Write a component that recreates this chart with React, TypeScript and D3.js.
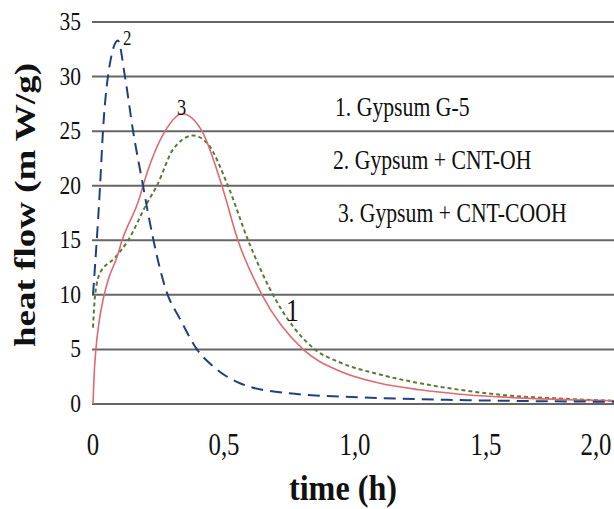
import React from "react";
import * as d3 from "d3";

const yTicks = [0, 5, 10, 15, 20, 25, 30, 35];
const xTicks = [0, 0.5, 1.0, 1.5, 2.0];
const xTickLabels = ["0", "0,5", "1,0", "1,5", "2,0"];

// Curve 2: Gypsum + CNT-OH (blue dashed)
const t2 = [0, 0.027, 0.038, 0.057, 0.095, 0.122, 0.153, 0.191, 0.21, 0.282, 0.332, 0.397, 0.466, 0.561, 0.74, 1.095, 1.431, 1.99];
const q2 = [10, 20, 25, 30, 33.3, 30, 25, 20, 17.5, 10.2, 7.8, 5.0, 3.3, 1.9, 1.0, 0.55, 0.35, 0.2];

// Curve 3: Gypsum + CNT-COOH (red solid)
const t3 = [0, 0.004, 0.011, 0.023, 0.038, 0.057, 0.092, 0.111, 0.179, 0.191, 0.275, 0.34, 0.416, 0.492, 0.553, 0.645, 0.802, 0.943, 1.095, 1.248, 1.4, 1.553, 1.99];
const q3 = [0, 2.5, 5, 7.5, 9.5, 11.3, 13.5, 15, 19, 20, 25, 26.6, 25, 20, 15, 10, 5, 3.0, 1.9, 1.3, 0.9, 0.65, 0.3];

// Curve 1: Gypsum G-5 (green dotted)
const t1 = [0, 0.008, 0.027, 0.084, 0.134, 0.206, 0.244, 0.305, 0.382, 0.439, 0.515, 0.592, 0.687, 0.847, 0.943, 1.095, 1.248, 1.4, 1.553, 1.782, 1.99];
const q1 = [7, 10, 12, 13.4, 15, 18.4, 20, 23.3, 24.6, 23.8, 20, 15, 10, 5, 3.8, 2.7, 1.9, 1.3, 0.85, 0.5, 0.3];

const legendLabels = ["1. Gypsum G-5", "2. Gypsum + CNT-OH", "3. Gypsum + CNT-COOH"];

const W = 614;
const H = 509;
const FONT = '"Liberation Serif"';

export default function App() {
  const x = d3.scaleLinear().domain([0, 2]).range([93, 617]);
  const y = d3.scaleLinear().domain([0, 35]).range([404, 22]);
  const line = d3
    .line<[number, number]>()
    .x((d) => x(d[0]))
    .y((d) => y(d[1]))
    .curve(d3.curveMonotoneX);
  const zip = (t: number[], q: number[]) => t.map((v, i) => [v, q[i]] as [number, number]);

  const T = (props: { x: number; y: number; size: number; sx?: number; bold?: boolean; anchor?: string; rotate?: number; children: any }) => {
    const s = props.sx ?? 0.8;
    return (
      <text
        transform={`translate(${props.x},${props.y})${props.rotate ? ` rotate(${props.rotate}) scale(1,${s})` : ` scale(${s},1)`}`}
        style={{ fontFamily: FONT, fontSize: props.size, fontWeight: props.bold ? 700 : 400 }}
        textAnchor={props.anchor || "start"}
        fill="#111"
      >
        {props.children}
      </text>
    );
  };

  return (
    <svg width={W} height={H} style={{ position: "absolute", left: 0, top: 0, background: "#fff" }}>
      <rect x={0} y={0} width={W} height={H} fill="#fff" />
      {yTicks.map((v) => (
        <line key={v} x1={92} x2={W} y1={y(v)} y2={y(v)} stroke="#666" strokeWidth={2} />
      ))}
      {yTicks.map((v) => (
        <T key={"yl" + v} x={81} y={y(v) + 8} size={25} sx={0.86} anchor="end">
          {v}
        </T>
      ))}
      {xTicks.map((v, i) => (
        <T key={"xl" + v} x={Math.min(x(v), 596)} y={455} size={31} sx={0.8} anchor="middle">
          {xTickLabels[i]}
        </T>
      ))}
      <path d={line(zip(t1, q1)) || ""} fill="none" stroke="#5b7a3a" strokeWidth={2} strokeDasharray="4 3" />
      <path d={line(zip(t3, q3)) || ""} fill="none" stroke="#de6a72" strokeWidth={1.6} />
      <path d={line(zip(t2, q2)) || ""} fill="none" stroke="#23407e" strokeWidth={2} strokeDasharray="12 7" />
      <T x={123} y={45} size={21}>2</T>
      <T x={177} y={115} size={23}>3</T>
      <T x={286} y={321} size={32}>1</T>
      <T x={335} y={116} size={27.5} sx={0.79}>{legendLabels[0]}</T>
      <T x={333} y={169} size={27.5} sx={0.79}>{legendLabels[1]}</T>
      <T x={338} y={222} size={27.5} sx={0.79}>{legendLabels[2]}</T>
      <T x={343} y={500} size={35} sx={0.92} bold anchor="middle">time (h)</T>
      <T x={35} y={205} size={37} sx={0.78} bold anchor="middle" rotate={-90}>heat flow (m W/g)</T>
    </svg>
  );
}
